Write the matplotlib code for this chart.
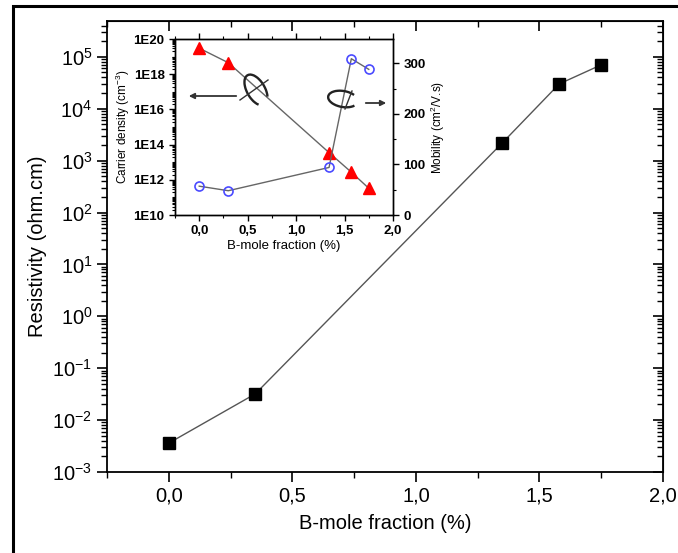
import numpy as np
import matplotlib
matplotlib.use("Agg")
import matplotlib.pyplot as plt
from matplotlib.patches import Rectangle, Arc
from matplotlib.ticker import FixedLocator, LogLocator, FuncFormatter, MultipleLocator, NullFormatter

plt.rcParams['font.family'] = ['Liberation Sans', 'DejaVu Sans']
plt.rcParams['mathtext.fontset'] = 'custom'
plt.rcParams['mathtext.rm'] = 'Liberation Sans'
plt.rcParams['mathtext.it'] = 'Liberation Sans:italic'
plt.rcParams['mathtext.bf'] = 'Liberation Sans:bold'
plt.rcParams['axes.unicode_minus'] = False

# main panel: resistivity vs B fraction
boron = [0.0, 0.35, 1.35, 1.58, 1.75]
resistivity = [3.6e-3, 3.2e-2, 2.2e3, 3.0e4, 7.0e4]

# inset: carrier density and mobility
boron_in = [0.0, 0.30, 1.34, 1.57, 1.75]
carrier = [3.0e19, 4.5e18, 3.5e13, 2.7e12, 3.3e11]
mobility = [57, 48, 94, 309, 288]

x_ticks = [0.0, 0.5, 1.0, 1.5, 2.0]
x_labels = ['0,0', '0,5', '1,0', '1,5', '2,0']

W, H = 678, 553
fig = plt.figure(figsize=(W / 100, H / 100), dpi=100)

def fx(px): return px / W
def fy(py): return 1 - py / H

# outer frame
fig.patches.append(Rectangle((fx(13), fy(560)), fx(700) - fx(13), fy(6) - fy(560),
                             transform=fig.transFigure, fill=False, lw=2.2, ec='black'))

ax = fig.add_axes([fx(107), fy(472), fx(663) - fx(107), fy(21) - fy(472)])
ax.plot(boron, resistivity, '-', color='#555555', lw=1.0, zorder=2)
ax.plot(boron, resistivity, 's', color='black', ms=9, zorder=3)
ax.set_yscale('log')
ax.set_xlim(-0.25, 2.0)
ax.set_ylim(1e-3, 10 ** 5.69)

def log_fmt(v, p):
    return r'$\mathregular{10^{%d}}$' % round(np.log10(v))

ax.set_xticks(x_ticks)
ax.set_xticklabels(x_labels)
ax.xaxis.set_minor_locator(MultipleLocator(0.25))
ax.yaxis.set_major_locator(FixedLocator([10.0 ** k for k in range(-3, 6)]))
ax.yaxis.set_major_formatter(FuncFormatter(log_fmt))
ax.yaxis.set_minor_locator(LogLocator(base=10, subs=np.arange(2, 10), numticks=20))
ax.yaxis.set_minor_formatter(NullFormatter())
ax.tick_params(which='major', labelsize=14.5, width=1.2, length=7, direction='out')
ax.tick_params(which='minor', width=1.0, length=4, direction='out')
for spine in ax.spines.values():
    spine.set_linewidth(1.3)

# top and right ticks point inward
top = ax.secondary_xaxis('top')
top.set_xticks(x_ticks)
top.xaxis.set_minor_locator(MultipleLocator(0.25))
top.tick_params(which='major', width=1.2, length=7, direction='in', labeltop=False)
top.tick_params(which='minor', width=1.0, length=4, direction='in')
right = ax.secondary_yaxis('right')
right.yaxis.set_major_locator(FixedLocator([10.0 ** k for k in range(-3, 6)]))
right.yaxis.set_minor_locator(LogLocator(base=10, subs=np.arange(2, 10), numticks=20))
right.yaxis.set_minor_formatter(NullFormatter())
right.tick_params(which='major', width=1.2, length=7, direction='in', labelright=False)
right.tick_params(which='minor', width=1.0, length=4, direction='in')

ax.set_xlabel('B-mole fraction (%)', fontsize=14.5, labelpad=6)
ax.set_ylabel('Resistivity (ohm.cm)', fontsize=14.5, labelpad=4)

# inset
ax_in = fig.add_axes([fx(175), fy(215), fx(393) - fx(175), fy(39) - fy(215)], zorder=5)
ax_in.set_facecolor('white')
ax_in.plot(boron_in, carrier, '-', color='#666666', lw=1.0, zorder=2)
ax_in.plot(boron_in, carrier, '^', color='red', ms=8, zorder=3)
ax_in.set_yscale('log')
ax_in.set_xlim(-0.25, 2.0)
ax_in.set_ylim(1e10, 1e20)
ax_in.set_xticks(x_ticks)
ax_in.set_xticklabels(x_labels)
ax_in.xaxis.set_minor_locator(MultipleLocator(0.25))
ax_in.yaxis.set_major_locator(FixedLocator([10.0 ** k for k in range(10, 21, 2)]))
ax_in.yaxis.set_major_formatter(FuncFormatter(lambda v, p: '1E%d' % round(np.log10(v))))
ax_in.yaxis.set_minor_locator(LogLocator(base=10, subs=np.arange(1, 10), numticks=30))
ax_in.yaxis.set_minor_formatter(NullFormatter())
ax_in.tick_params(axis='both', which='major', labelsize=9.5, length=4, width=1.0, direction='out')
ax_in.tick_params(axis='both', which='minor', length=2, width=0.8, direction='out')
ax_in.tick_params(axis='x', which='both', top=True)
for lab in ax_in.get_xticklabels() + ax_in.get_yticklabels():
    lab.set_fontweight('bold')
ax_in.set_xlabel('B-mole fraction (%)', fontsize=9.5, labelpad=2)
ax_in.set_ylabel('Carrier density (cm$^{-3}$)', fontsize=8.5, labelpad=1)

ax_mu = ax_in.twinx()
ax_mu.plot(boron_in, mobility, '-', color='#666666', lw=1.0)
ax_mu.plot(boron_in, mobility, 'o', mfc='none', mec='#4a4aff', mew=1.2, ms=6.5)
ax_mu.set_ylim(0, 348)
ax_mu.set_yticks([0, 100, 200, 300])
ax_mu.yaxis.set_minor_locator(MultipleLocator(50))
ax_mu.tick_params(axis='y', which='major', labelsize=9.5, length=4, width=1.0, direction='out')
ax_mu.tick_params(axis='y', which='minor', length=2, width=0.8, direction='out')
for lab in ax_mu.get_yticklabels():
    lab.set_fontweight('bold')
ax_mu.set_ylabel('Mobility (cm$^{2}$/V.s)', fontsize=8.5, labelpad=2)
for a in (ax_in, ax_mu):
    for spine in a.spines.values():
        spine.set_linewidth(1.0)

# loop-and-arrow markers in the inset (pixel overlay)
ov = fig.add_axes([0, 0, 1, 1], zorder=10)
ov.set_xlim(0, W)
ov.set_ylim(H, 0)
ov.axis('off')
ov.annotate('', xy=(186, 96), xytext=(239, 96),
            arrowprops=dict(arrowstyle='-|>', color='#333333', lw=1.3, mutation_scale=8))
ov.add_patch(Arc((256, 90), 18, 34, angle=-30, theta1=110, theta2=420, color='#222222', lw=1.7))
ov.plot([240, 268], [100, 80], color='#333333', lw=1.0)
ov.annotate('', xy=(389, 103), xytext=(363, 103),
            arrowprops=dict(arrowstyle='-|>', color='#333333', lw=1.3, mutation_scale=8))
ov.add_patch(Arc((343, 99), 30, 16, angle=10, theta1=20, theta2=330, color='#222222', lw=1.7))
ov.plot([352, 345], [91, 109], color='#333333', lw=1.0)

fig.savefig('out.png', dpi=100)
